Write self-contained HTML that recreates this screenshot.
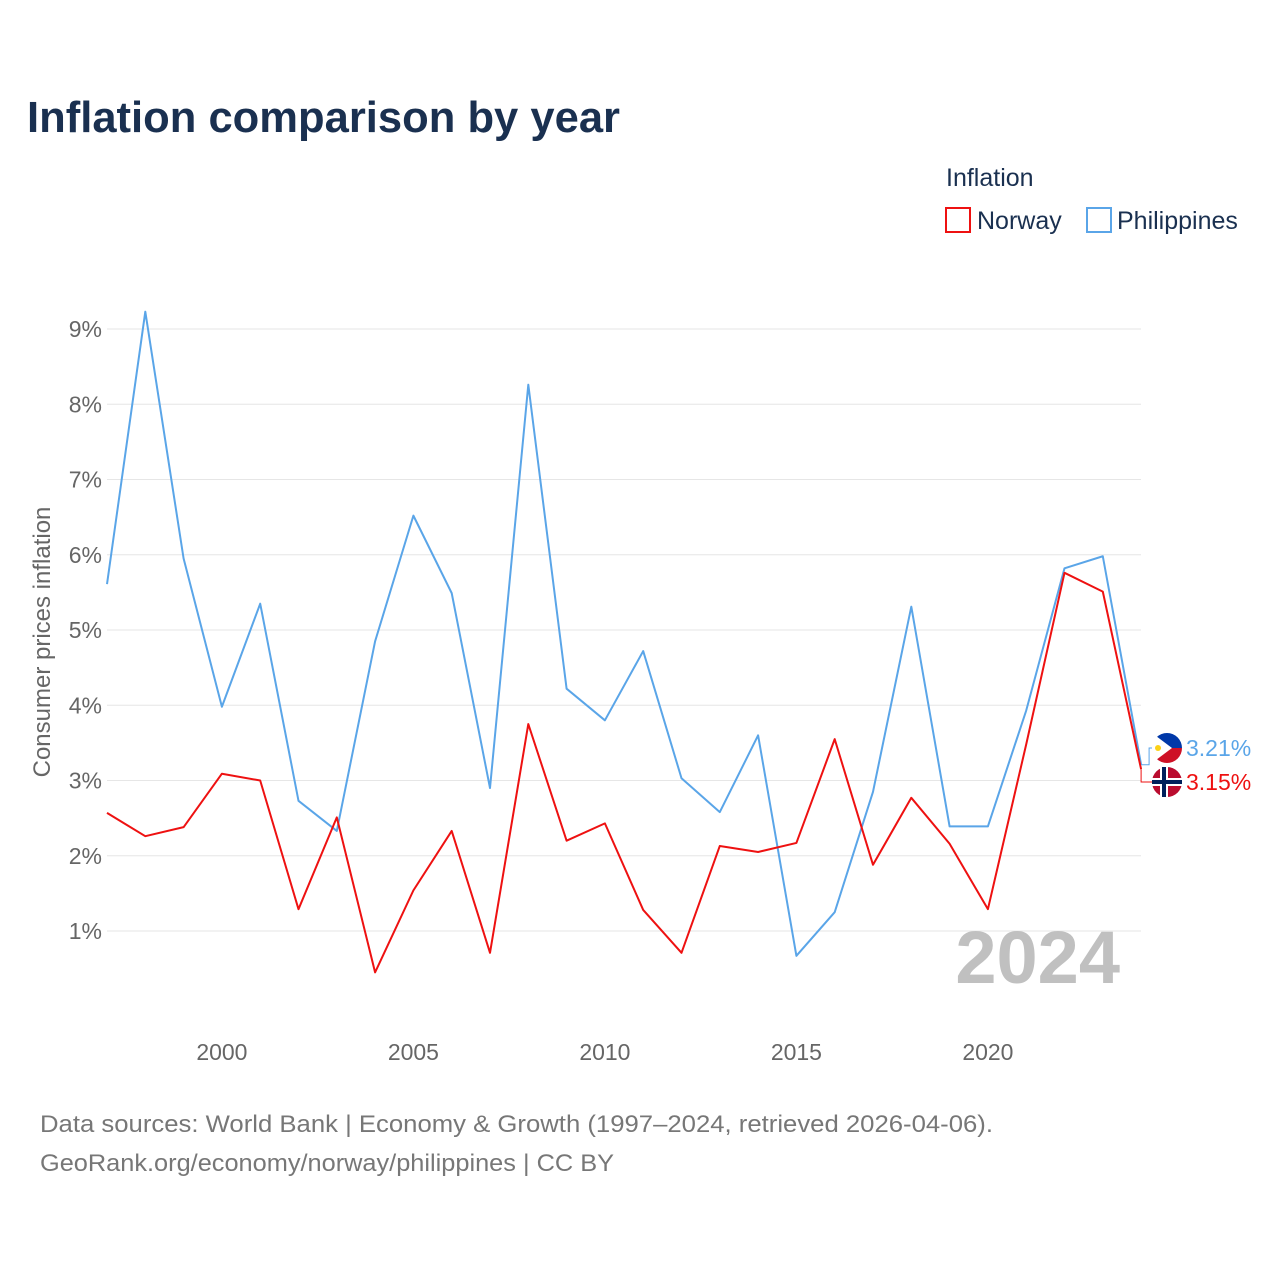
<!DOCTYPE html>
<html><head><meta charset="utf-8">
<style>
body{margin:0;background:#fff;font-family:"Liberation Sans",sans-serif;}
#wrap{position:relative;width:1280px;height:1280px;overflow:hidden;}
</style></head>
<body>
<div id="wrap">
<svg id="chart" width="1280" height="1280" xmlns="http://www.w3.org/2000/svg">
<text x="27" y="132" font-size="44" font-weight="bold" fill="#1a3050" textLength="593" lengthAdjust="spacingAndGlyphs">Inflation comparison by year</text>
<text x="946" y="186" font-size="25" fill="#1a3050">Inflation</text>
<g>
<rect x="946" y="208" width="24" height="24" fill="none" stroke="#ee1111" stroke-width="2"/>
<text x="977" y="229" font-size="25" fill="#1a3050">Norway</text></g>
<g>
<rect x="1087" y="208" width="24" height="24" fill="none" stroke="#5aa5e8" stroke-width="2"/>
<text x="1117" y="229" font-size="25" fill="#1a3050">Philippines</text></g>
<g id="grid"></g><g id="ticks"></g><g id="lines"></g>
<text x="1120" y="983" font-size="74" font-weight="bold" fill="#c0c0c0" text-anchor="end">2024</text>
<text transform="translate(50,642) rotate(-90)" font-size="24" fill="#666" text-anchor="middle">Consumer prices inflation</text>
<text x="40" y="1132" font-size="24" fill="#777" textLength="953" lengthAdjust="spacingAndGlyphs">Data sources: World Bank | Economy &amp; Growth (1997–2024, retrieved 2026-04-06).</text>
<text x="40" y="1171" font-size="24" fill="#777" textLength="574" lengthAdjust="spacingAndGlyphs">GeoRank.org/economy/norway/philippines | CC BY</text>
</svg>
</div>
<script>
const years=[1997,1998,1999,2000,2001,2002,2003,2004,2005,2006,2007,2008,2009,2010,2011,2012,2013,2014,2015,2016,2017,2018,2019,2020,2021,2022,2023,2024];
const philippines=[5.61,9.23,5.95,3.98,5.35,2.73,2.33,4.85,6.52,5.49,2.90,8.26,4.22,3.80,4.72,3.03,2.58,3.60,0.67,1.25,2.85,5.31,2.39,2.39,3.93,5.82,5.98,3.21];
const norway=[2.57,2.26,2.38,3.09,3.00,1.29,2.51,0.45,1.54,2.33,0.71,3.75,2.20,2.43,1.28,0.71,2.13,2.05,2.17,3.55,1.88,2.77,2.16,1.29,3.48,5.76,5.51,3.15];
const yTicks=[1,2,3,4,5,6,7,8,9];
const xTicks=[2000,2005,2010,2015,2020];
const NS="http://www.w3.org/2000/svg";
function xs(y){return 107+(y-1997)*38.3;}
function ys(v){return 1006.25-v*75.25;}
function mk(t,a,p){const e=document.createElementNS(NS,t);for(const k in a)e.setAttribute(k,a[k]);p.appendChild(e);return e;}
const grid=document.getElementById('grid'),ticks=document.getElementById('ticks'),lines=document.getElementById('lines');
yTicks.forEach(v=>{
 const l=mk('line',{x1:107,x2:1141,y1:ys(v),y2:ys(v),stroke:'#e6e6e6','stroke-width':1},grid);
 
 
 const t=mk('text',{x:102,y:ys(v)+8,'font-size':23,fill:'#666','text-anchor':'end'},ticks);
 t.textContent=v+'%';
 
 
});
xTicks.forEach(v=>{
 const t=mk('text',{x:xs(v),y:1060,'font-size':23,fill:'#666','text-anchor':'middle'},ticks);
 t.textContent=v;
 
 
});
function series(vals,color,name){
 const p=mk('polyline',{points:vals.map((v,i)=>xs(years[i])+','+ys(v)).join(' '),fill:'none',stroke:color,'stroke-width':2,'stroke-linejoin':'round'},lines);
 
 
}
series(philippines,'#5aa5e8','philippines');
series(norway,'#ee1111','norway');
const lp=philippines[philippines.length-1],ln=norway[norway.length-1];
const xe=xs(2024);
const phY=748,noY=782;
mk('polyline',{points:xe+','+ys(lp)+' '+(xe+8)+','+ys(lp)+' '+(xe+8)+','+phY+' '+(xe+14)+','+phY,fill:'none',stroke:'#5aa5e8','stroke-width':1},lines);
mk('polyline',{points:xe+','+ys(ln)+' '+xe+','+noY+' '+(xe+14)+','+noY,fill:'none',stroke:'#ee1111','stroke-width':1},lines);
const fg=mk('g',{},lines);


mk('path',{d:`M${1167-15},${phY} A15,15 0 0 1 ${1167+15},${phY} Z`,fill:'#0038a8'},fg);
mk('path',{d:`M${1167-15},${phY} A15,15 0 0 0 ${1167+15},${phY} Z`,fill:'#ce1126'},fg);
mk('path',{d:`M1152,${phY-15} L1172,${phY} L1152,${phY+15} Z`,fill:'#fff'},fg);
mk('circle',{cx:1158,cy:phY,r:3,fill:'#fcd116'},fg);
const ng=mk('g',{},lines);


mk('circle',{cx:1167,cy:noY,r:15,fill:'#ba0c2f'},ng);
mk('rect',{x:1152,y:noY-4,width:30,height:8,fill:'#fff'},ng);
mk('rect',{x:1160,y:noY-15,width:8,height:30,fill:'#fff'},ng);
mk('rect',{x:1152,y:noY-2,width:30,height:4,fill:'#00205b'},ng);
mk('rect',{x:1162,y:noY-15,width:4,height:30,fill:'#00205b'},ng);
const t1=mk('text',{x:1186,y:phY+8,'font-size':23,fill:'#5aa5e8'},lines);
t1.textContent=lp.toFixed(2)+'%';


const t2=mk('text',{x:1186,y:noY+8,'font-size':23,fill:'#ee1111'},lines);
t2.textContent=ln.toFixed(2)+'%';


</script>
</body></html>
